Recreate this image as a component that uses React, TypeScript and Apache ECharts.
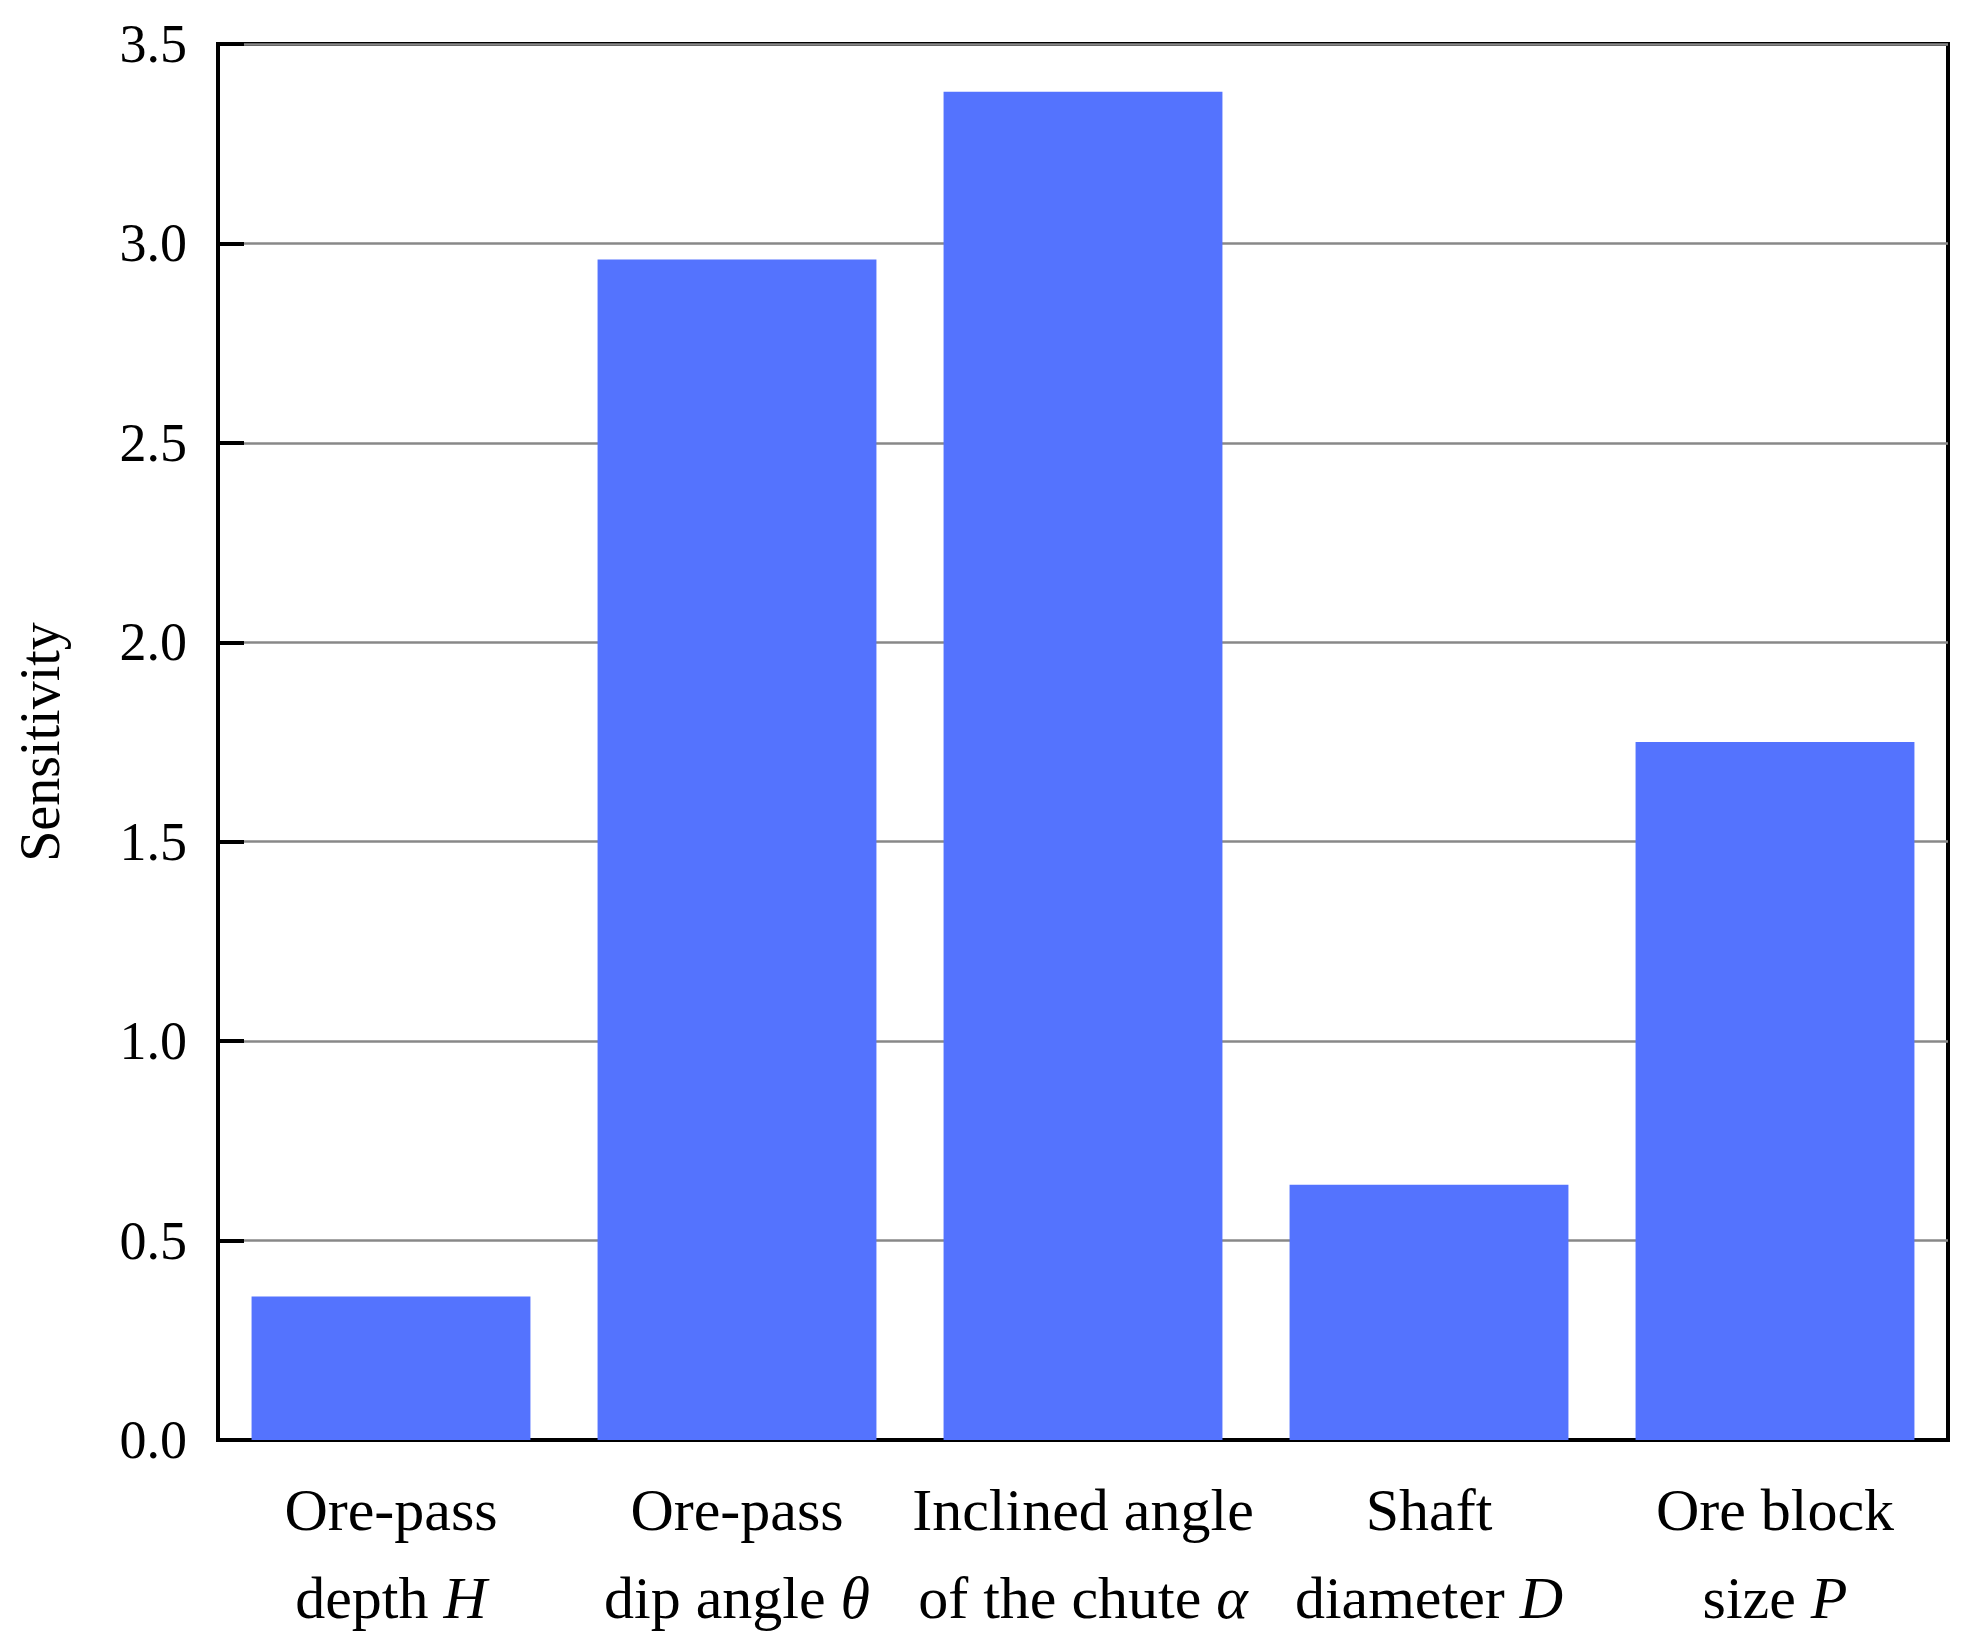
import React, { useEffect, useRef } from "react";
import * as echarts from "echarts";

const categoryLines: string[][] = [
  ["Ore-pass", "depth "],
  ["Ore-pass", "dip angle "],
  ["Inclined angle", "of the chute "],
  ["Shaft", "diameter "],
  ["Ore block", "size "],
];
const categorySymbols: string[] = ["H", "θ", "α", "D", "P"];
const categories: string[] = ["c0", "c1", "c2", "c3", "c4"];
const sensitivity: number[] = [0.36, 2.96, 3.38, 0.64, 1.75];
const yTicks: number[] = [0, 0.5, 1.0, 1.5, 2.0, 2.5, 3.0, 3.5];

const FONT = "'Liberation Serif', 'Times New Roman', serif";

export default function App() {
  const ref = useRef<HTMLDivElement>(null);
  useEffect(() => {
    document.body.style.margin = "0";
    const chart = echarts.init(ref.current!, null, { renderer: "svg" });
    chart.setOption({
      animation: false,
      backgroundColor: "#ffffff",
      grid: {
        left: 218,
        right: 21,
        top: 44,
        bottom: 208,
        show: true,
        borderColor: "#000",
        borderWidth: 4,
        backgroundColor: "transparent",
      },
      xAxis: {
        type: "category",
        data: categories,
        axisLine: { show: true, lineStyle: { color: "#000", width: 4 } },
        axisTick: { show: false },
        axisLabel: {
          margin: 26,
          interval: 0,
          formatter: (_v: string, idx: number) =>
            `{n|${categoryLines[idx][0]}}\n{n|${categoryLines[idx][1]}}{i|${categorySymbols[idx]}}`,
          rich: {
            n: { fontFamily: FONT, fontSize: 60, lineHeight: 88, color: "#000" },
            i: { fontFamily: FONT, fontSize: 60, lineHeight: 88, fontStyle: "italic", color: "#000" },
          },
        },
      },
      yAxis: {
        type: "value",
        min: yTicks[0],
        max: yTicks[yTicks.length - 1],
        interval: 0.5,
        name: "Sensitivity",
        nameLocation: "middle",
        nameGap: 150,
        nameRotate: 90,
        nameTextStyle: { fontFamily: FONT, fontSize: 56, color: "#000" },
        axisLine: { show: true, lineStyle: { color: "#000", width: 4 } },
        axisTick: { show: true, inside: true, length: 26, lineStyle: { color: "#000", width: 4 } },
        axisLabel: {
          margin: 31,
          fontFamily: FONT,
          fontSize: 54,
          color: "#000",
          formatter: (v: number) => v.toFixed(1),
        },
        splitLine: { show: true, lineStyle: { color: "#888888", width: 2.5 } },
      },
      series: [
        {
          type: "bar",
          data: sensitivity,
          barCategoryGap: "19.4%",
          itemStyle: { color: "#5473FE" },
        },
      ],
    });
    return () => chart.dispose();
  }, []);
  return (
    <div
      ref={ref}
      style={{ position: "absolute", left: 0, top: 0, width: 1969, height: 1648 }}
    />
  );
}
